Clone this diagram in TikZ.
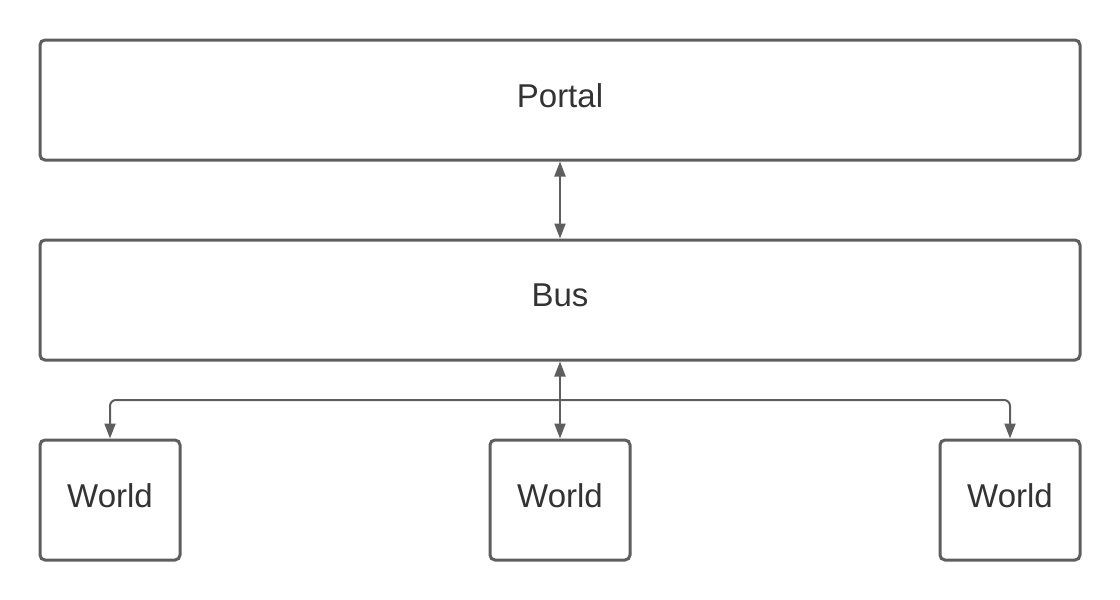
\documentclass[tikz,border=0pt]{standalone}
\usepackage{fontspec}
\setmainfont{Liberation Sans}
\usetikzlibrary{arrows.meta}
\definecolor{edge}{HTML}{5E5E5E}
\definecolor{txt}{HTML}{333333}
\begin{document}
\begin{tikzpicture}[x=1pt,y=-1pt,
  box/.style={draw=edge,line width=3pt,rounded corners=5pt,fill=white,text=txt,font=\fontsize{33}{40}\selectfont,inner sep=0pt,text depth=9pt},
  conn/.style={draw=edge,line width=2pt,arrows={-Triangle[width=11pt,length=15pt]}},
  dconn/.style={draw=edge,line width=2pt,arrows={Triangle[width=11pt,length=15pt]-Triangle[width=11pt,length=15pt]}}]
\useasboundingbox (0,0) rectangle (1120,600);
\node[box,minimum width=1040pt,minimum height=120pt] (portal) at (560,100) {Portal};
\node[box,minimum width=1040pt,minimum height=120pt] (bus) at (560,300) {Bus};
\node[box,minimum width=140pt,minimum height=120pt] (w1) at (110,500) {World};
\node[box,minimum width=140pt,minimum height=120pt] (w2) at (560,500) {World};
\node[box,minimum width=140pt,minimum height=120pt] (w3) at (1010,500) {World};
\coordinate (j) at (560,400);
\draw[dconn] (portal.south) -- (bus.north);
\draw[dconn] (bus.south) -- (w2.north);
\draw[conn,rounded corners=6pt] (j) -| (w1.north);
\draw[conn,rounded corners=6pt] (j) -| (w3.north);
\end{tikzpicture}
\end{document}
